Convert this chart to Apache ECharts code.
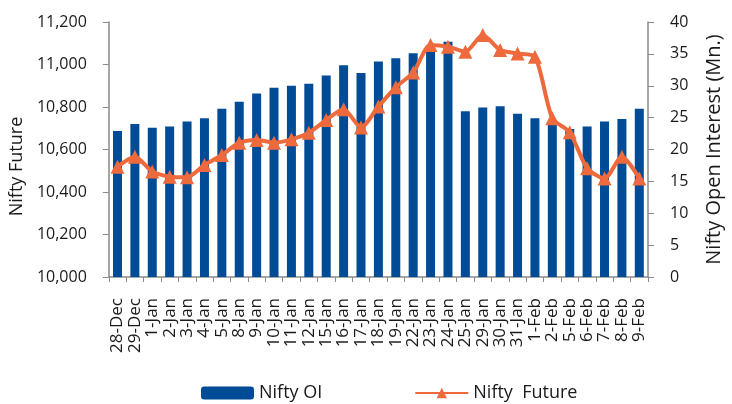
<!DOCTYPE html>
<html>
<head>
<meta charset="utf-8">
<script src="https://cdn.jsdelivr.net/npm/echarts@6/dist/echarts.min.js"></script>
<style>
	html, body { margin: 0; padding: 0; background: #fff; }
	#chart { width: 732px; height: 404px; }
</style>
</head>
<body>
<div id="chart"></div>
<script>
// dates on the x axis
var days = ['28-Dec', '29-Dec', '1-Jan', '2-Jan', '3-Jan', '4-Jan', '5-Jan', '8-Jan', '9-Jan', '10-Jan',
	'11-Jan', '12-Jan', '15-Jan', '16-Jan', '17-Jan', '18-Jan', '19-Jan', '22-Jan', '23-Jan', '24-Jan',
	'25-Jan', '29-Jan', '30-Jan', '31-Jan', '1-Feb', '2-Feb', '5-Feb', '6-Feb', '7-Feb', '8-Feb', '9-Feb'];

// open interest, Mn (right axis)
var niftyOI = [22.9, 24.0, 23.4, 23.6, 24.4, 24.9, 26.4, 27.5, 28.8, 29.7,
	30.0, 30.3, 31.6, 33.2, 32.0, 33.8, 34.3, 35.1, 36.0, 36.9,
	26.0, 26.6, 26.8, 25.6, 24.9, 24.0, 23.2, 23.6, 24.4, 24.8, 26.4];

// future price (left axis)
var niftyFuture = [10519, 10566, 10496, 10472, 10469, 10527, 10574, 10632, 10645, 10632,
	10648, 10679, 10739, 10789, 10704, 10802, 10893, 10962, 11092, 11084,
	11060, 11139, 11068, 11052, 11037, 10747, 10681, 10512, 10464, 10566, 10464];

var leftTicks = {min: 10000, max: 11200, step: 200};
var rightTicks = {min: 0, max: 40, step: 5};

var dom = document.getElementById('chart');
var myChart = echarts.init(dom);

var txt = '#1a1a1a';
var axisGrey = '#8a8a8a';
var fam = '"Open Sans", sans-serif';

var option = {
	animation: false,
	textStyle: {fontFamily: fam},
	grid: {
		left: 104,
		right: 67,
		top: 22,
		bottom: 127
	},
	legend: {
		top: 379,
		left: 196,
		itemWidth: 53,
		itemHeight: 13,
		itemGap: 92,
		textStyle: {fontSize: 18, color: txt, fontFamily: fam},
		data: ['Nifty OI', 'Nifty  Future']
	},
	xAxis: {
		type: 'category',
		data: days,
		axisLine: {lineStyle: {color: axisGrey, width: 1.5}},
		axisTick: {show: true, length: 5, lineStyle: {color: axisGrey}},
		axisLabel: {
			rotate: 90,
			interval: 0,
			margin: 21,
			fontSize: 17,
			color: txt,
			fontFamily: fam
		}
	},
	yAxis: [
		{
			type: 'value',
			name: 'Nifty Future',
			nameLocation: 'middle',
			nameGap: 76,
			nameTextStyle: {fontSize: 18, color: txt, fontFamily: fam, padding: [0, 0, 0, -34]},
			min: leftTicks.min,
			max: leftTicks.max,
			interval: leftTicks.step,
			axisLine: {show: true, lineStyle: {color: axisGrey, width: 1.5}},
			axisTick: {show: true, length: 6, lineStyle: {color: axisGrey}},
			axisLabel: {
				margin: 22,
				fontSize: 16,
				color: txt,
				fontFamily: fam,
				formatter: function (v) {
					return echarts.format.addCommas(v);
				}
			},
			splitLine: {show: false}
		},
		{
			type: 'value',
			name: 'Nifty Open Interest (Mn.)',
			nameLocation: 'middle',
			nameGap: 56,
			nameTextStyle: {fontSize: 20, color: txt, fontFamily: fam},
			min: rightTicks.min,
			max: rightTicks.max,
			interval: rightTicks.step,
			position: 'right',
			axisLine: {show: true, lineStyle: {color: axisGrey, width: 1.5}},
			axisTick: {show: true, length: 6, lineStyle: {color: axisGrey}},
			axisLabel: {
				margin: 22,
				fontSize: 16,
				color: txt,
				fontFamily: fam
			},
			splitLine: {show: false}
		}
	],
	series: [
		{
			name: 'Nifty OI',
			type: 'bar',
			yAxisIndex: 1,
			data: niftyOI,
			barWidth: 9,
			itemStyle: {color: '#004B96'}
		},
		{
			name: 'Nifty  Future',
			type: 'line',
			yAxisIndex: 0,
			data: niftyFuture,
			smooth: 0.25,
			symbol: 'triangle',
			symbolSize: 14,
			lineStyle: {color: '#EE6A3C', width: 4},
			itemStyle: {color: '#EE6A3C'}
		}
	]
};

myChart.setOption(option, true);
</script>
</body>
</html>
